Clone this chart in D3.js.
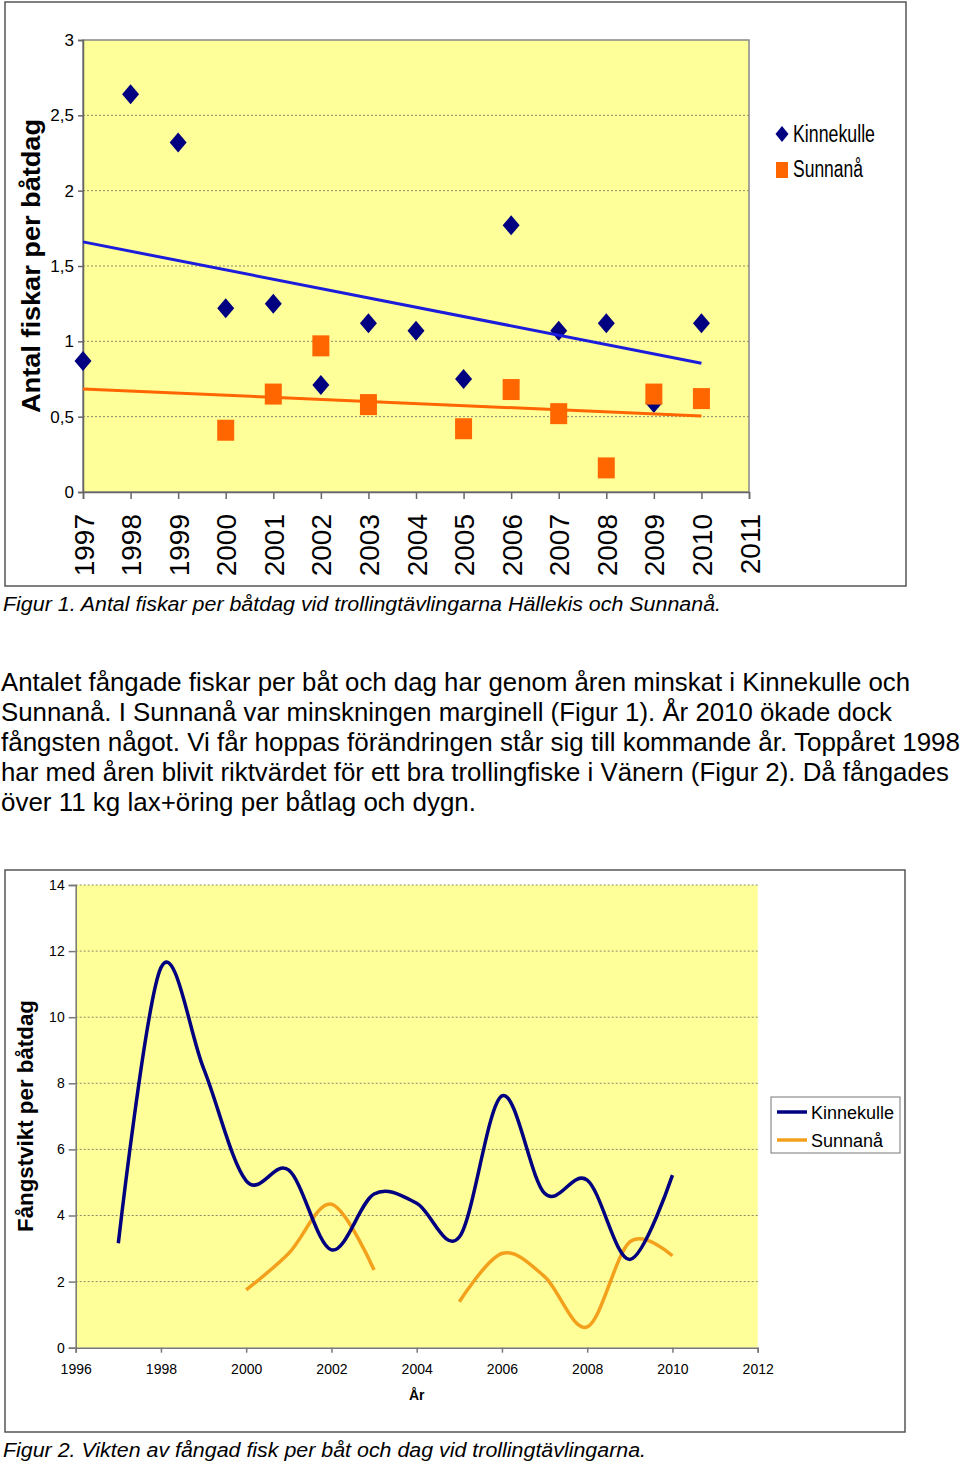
<!DOCTYPE html>
<html>
<head>
<meta charset="utf-8">
<script src="https://cdn.jsdelivr.net/npm/d3@7"></script>
<style>
  html, body { margin: 0; padding: 0; background: #ffffff; }
  svg { display: block; font-family: "Liberation Sans", Arial, Helvetica, sans-serif; }
</style>
</head>
<body>
<svg id="page" width="960" height="1465"></svg>
<script>
// ---------- Figure 1 data ----------
const years1 = [1997, 1998, 1999, 2000, 2001, 2002, 2003, 2004, 2005, 2006, 2007, 2008, 2009, 2010];
const kinnekulle1 = [0.87, 2.64, 2.32, 1.22, 1.25, 0.71, 1.12, 1.07, 0.75, 1.77, 1.07, 1.12, 0.59, 1.12];
const sunnana1 = [null, null, null, 0.41, 0.65, 0.97, 0.58, null, 0.42, 0.68, 0.52, 0.16, 0.65, 0.62];
const trendYears1 = [1997, 2010];
const trendKinnekulle1 = [1.66, 0.855];
const trendSunnana1 = [0.684, 0.504];
const xTickYears1 = [1997, 1998, 1999, 2000, 2001, 2002, 2003, 2004, 2005, 2006, 2007, 2008, 2009, 2010, 2011];
const yTicks1 = [0, 0.5, 1, 1.5, 2, 2.5, 3];
const yTickLabels1 = ["0", "0,5", "1", "1,5", "2", "2,5", "3"];
const legend1 = ["Kinnekulle", "Sunnanå"];

// ---------- Figure 2 data ----------
const years2 = [1997, 1998, 1999, 2000, 2001, 2002, 2003, 2004, 2005, 2006, 2007, 2008, 2009, 2010];
const kinnekulle2 = [3.16, 11.5, 8.45, 5.05, 5.37, 2.96, 4.65, 4.37, 3.35, 7.62, 4.67, 5.07, 2.67, 5.22];
const sunnana2 = [null, null, null, 1.75, 2.86, 4.34, 2.35, null, 1.39, 2.85, 2.15, 0.63, 3.2, 2.78];
const xTicks2 = [1996, 1998, 2000, 2002, 2004, 2006, 2008, 2010, 2012];
const yTicks2 = [0, 2, 4, 6, 8, 10, 12, 14];
const legend2 = ["Kinnekulle", "Sunnanå"];

// ---------- Texts ----------
const caption1 = "Figur 1. Antal fiskar per båtdag vid trollingtävlingarna Hällekis och Sunnanå.";
const caption2 = "Figur 2. Vikten av fångad fisk per båt och dag vid trollingtävlingarna.";
const paragraph = [
  "Antalet fångade fiskar per båt och dag har genom åren minskat i Kinnekulle och",
  "Sunnanå. I Sunnanå var minskningen marginell (Figur 1). År 2010 ökade dock",
  "fångsten något. Vi får hoppas förändringen står sig till kommande år. Toppåret 1998",
  "har med åren blivit riktvärdet för ett bra trollingfiske i Vänern (Figur 2). Då fångades",
  "över 11 kg lax+öring per båtlag och dygn."
];
const paragraphWidths = [909, 891, 959, 948, 475];

const svg = d3.select("#page");
const YELLOW = "#FFFF99";
const NAVY = "#000080";
const ORANGE = "#FF6600";

// ================= FIGURE 1 =================
const f1 = svg.append("g");
f1.append("rect").attr("x", 5).attr("y", 2).attr("width", 901).attr("height", 584)
  .attr("fill", "#fff").attr("stroke", "#555").attr("stroke-width", 1.5);

const x1 = d3.scaleLinear().domain([1997, 2011]).range([83, 749]);
const y1 = d3.scaleLinear().domain([0, 3]).range([492, 40]);

f1.append("rect").attr("x", x1(1997)).attr("y", y1(3))
  .attr("width", x1(2011) - x1(1997)).attr("height", y1(0) - y1(3))
  .attr("fill", YELLOW).attr("stroke", "#888").attr("stroke-width", 1.5);

f1.append("g").selectAll("line").data(yTicks1.filter(d => d > 0 && d < 3)).join("line")
  .attr("x1", x1(1997)).attr("x2", x1(2011))
  .attr("y1", d => y1(d)).attr("y2", d => y1(d))
  .attr("stroke", "#8a8a70").attr("stroke-width", 1).attr("stroke-dasharray", "2,2");

const yAxis1 = f1.append("g").attr("transform", `translate(${x1(1997)},0)`)
  .call(d3.axisLeft(y1).tickValues(yTicks1).tickSize(5).tickPadding(4)
    .tickFormat((d, i) => yTickLabels1[i]));
yAxis1.selectAll("text").attr("font-size", 17).attr("fill", "#000")
  .attr("font-family", "'Liberation Sans', Arial, sans-serif");
yAxis1.selectAll("line, path").attr("stroke", "#666").attr("stroke-width", 1.5);

const xAxis1 = f1.append("g").attr("transform", `translate(0,${y1(0)})`)
  .call(d3.axisBottom(x1).tickValues(xTickYears1).tickSize(7).tickFormat(d => String(d)));
xAxis1.selectAll("line, path").attr("stroke", "#666").attr("stroke-width", 1.5);
xAxis1.selectAll("text")
  .attr("font-size", 28).attr("fill", "#000")
  .attr("font-family", "'Liberation Sans', Arial, sans-serif")
  .attr("transform", "rotate(-90)")
  .attr("text-anchor", "end")
  .attr("x", -22).attr("y", 10).attr("dy", 0);

// markers
const kData1 = years1.map((y, i) => ({ year: y, v: kinnekulle1[i] })).filter(d => d.v != null);
const sData1 = years1.map((y, i) => ({ year: y, v: sunnana1[i] })).filter(d => d.v != null);

f1.append("g").selectAll("path").data(kData1).join("path")
  .attr("transform", d => `translate(${x1(d.year)},${y1(d.v)})`)
  .attr("d", "M0,-10L8.5,0L0,10L-8.5,0Z")
  .attr("fill", NAVY);

f1.append("g").selectAll("rect").data(sData1).join("rect")
  .attr("x", d => x1(d.year) - 8.5).attr("y", d => y1(d.v) - 10.5)
  .attr("width", 17).attr("height", 21)
  .attr("fill", ORANGE);

// trend lines
const trendLine = d3.line().x(d => x1(d.year)).y(d => y1(d.v));
f1.append("path")
  .datum(trendYears1.map((y, i) => ({ year: y, v: trendSunnana1[i] })))
  .attr("d", trendLine).attr("fill", "none").attr("stroke", ORANGE).attr("stroke-width", 3);
f1.append("path")
  .datum(trendYears1.map((y, i) => ({ year: y, v: trendKinnekulle1[i] })))
  .attr("d", trendLine).attr("fill", "none").attr("stroke", "#1c1cdc").attr("stroke-width", 3);

// y title
f1.append("text")
  .attr("transform", "translate(40,266) rotate(-90)")
  .attr("text-anchor", "middle").attr("font-size", 26).attr("font-weight", "bold")
  .attr("textLength", 294).attr("lengthAdjust", "spacingAndGlyphs")
  .text("Antal fiskar per båtdag");

// legend 1
const lg1 = f1.append("g");
lg1.append("path").attr("transform", "translate(782,134)").attr("d", "M0,-8L6.5,0L0,8L-6.5,0Z").attr("fill", NAVY);
lg1.append("rect").attr("x", 776).attr("y", 162).attr("width", 12).attr("height", 16).attr("fill", ORANGE);
lg1.append("text").attr("x", 793).attr("y", 142).attr("font-size", 23)
  .attr("textLength", 82).attr("lengthAdjust", "spacingAndGlyphs").text(legend1[0]);
lg1.append("text").attr("x", 793).attr("y", 177).attr("font-size", 23)
  .attr("textLength", 70).attr("lengthAdjust", "spacingAndGlyphs").text(legend1[1]);

// caption 1
svg.append("text").attr("x", 3).attr("y", 611).attr("font-size", 20).attr("font-style", "italic")
  .attr("textLength", 718).attr("lengthAdjust", "spacingAndGlyphs").text(caption1);

// paragraph
svg.append("g").selectAll("text").data(paragraph).join("text")
  .attr("x", 1).attr("y", (d, i) => 691 + i * 30)
  .attr("font-size", 25)
  .attr("textLength", (d, i) => paragraphWidths[i]).attr("lengthAdjust", "spacingAndGlyphs")
  .text(d => d);

// ================= FIGURE 2 =================
const f2 = svg.append("g");
f2.append("rect").attr("x", 5).attr("y", 870).attr("width", 900).attr("height", 562)
  .attr("fill", "#fff").attr("stroke", "#555").attr("stroke-width", 1.5);

const x2 = d3.scaleLinear().domain([1996, 2012]).range([75.7, 757.7]);
const y2 = d3.scaleLinear().domain([0, 14]).range([1347.7, 885]);

f2.append("rect").attr("x", x2(1996)).attr("y", y2(14))
  .attr("width", x2(2012) - x2(1996)).attr("height", y2(0) - y2(14))
  .attr("fill", YELLOW);

f2.append("g").selectAll("line").data(yTicks2.filter(d => d > 0)).join("line")
  .attr("x1", x2(1996)).attr("x2", x2(2012))
  .attr("y1", d => y2(d)).attr("y2", d => y2(d))
  .attr("stroke", "#8a8a70").attr("stroke-width", 1).attr("stroke-dasharray", "2,2");

const yAxis2 = f2.append("g").attr("transform", `translate(${x2(1996)},0)`)
  .call(d3.axisLeft(y2).tickValues(yTicks2).tickSize(7).tickPadding(4).tickFormat(d => String(d)));
yAxis2.selectAll("text").attr("font-size", 14).attr("fill", "#000")
  .attr("font-family", "'Liberation Sans', Arial, sans-serif");
yAxis2.selectAll("line, path").attr("stroke", "#777").attr("stroke-width", 1.5);

const xAxis2 = f2.append("g").attr("transform", `translate(0,${y2(0)})`)
  .call(d3.axisBottom(x2).tickValues(xTicks2).tickSize(5).tickPadding(11).tickFormat(d => String(d)));
xAxis2.selectAll("text").attr("font-size", 14).attr("fill", "#000")
  .attr("font-family", "'Liberation Sans', Arial, sans-serif");
xAxis2.selectAll("line, path").attr("stroke", "#777").attr("stroke-width", 1.5);

const smooth = d3.line().defined(d => d.v != null)
  .x(d => x2(d.year)).y(d => y2(d.v))
  .curve(d3.curveCardinal.tension(0));

f2.append("path")
  .datum(years2.map((y, i) => ({ year: y, v: sunnana2[i] })))
  .attr("d", smooth).attr("fill", "none").attr("stroke", "#F3A11C").attr("stroke-width", 3.5)
  .attr("stroke-linejoin", "round");
f2.append("path")
  .datum(years2.map((y, i) => ({ year: y, v: kinnekulle2[i] })))
  .attr("d", smooth).attr("fill", "none").attr("stroke", NAVY).attr("stroke-width", 3.5)
  .attr("stroke-linejoin", "round");

f2.append("text")
  .attr("transform", "translate(33,1116) rotate(-90)")
  .attr("text-anchor", "middle").attr("font-size", 22).attr("font-weight", "bold")
  .attr("textLength", 232).attr("lengthAdjust", "spacingAndGlyphs")
  .text("Fångstvikt per båtdag");

f2.append("text").attr("x", x2(2004)).attr("y", 1400).attr("text-anchor", "middle")
  .attr("font-size", 14).attr("font-weight", "bold").text("År");

// legend 2
const lg2 = f2.append("g");
lg2.append("rect").attr("x", 771).attr("y", 1097).attr("width", 129).attr("height", 56)
  .attr("fill", "#fff").attr("stroke", "#777").attr("stroke-width", 1);
lg2.append("line").attr("x1", 777).attr("x2", 807).attr("y1", 1112).attr("y2", 1112)
  .attr("stroke", NAVY).attr("stroke-width", 3.5);
lg2.append("line").attr("x1", 777).attr("x2", 807).attr("y1", 1140).attr("y2", 1140)
  .attr("stroke", "#F3A11C").attr("stroke-width", 3.5);
lg2.append("text").attr("x", 811).attr("y", 1119).attr("font-size", 18).text(legend2[0]);
lg2.append("text").attr("x", 811).attr("y", 1147).attr("font-size", 18).text(legend2[1]);

// caption 2
svg.append("text").attr("x", 3).attr("y", 1457).attr("font-size", 20).attr("font-style", "italic")
  .attr("textLength", 643).attr("lengthAdjust", "spacingAndGlyphs").text(caption2);
</script>
</body>
</html>
